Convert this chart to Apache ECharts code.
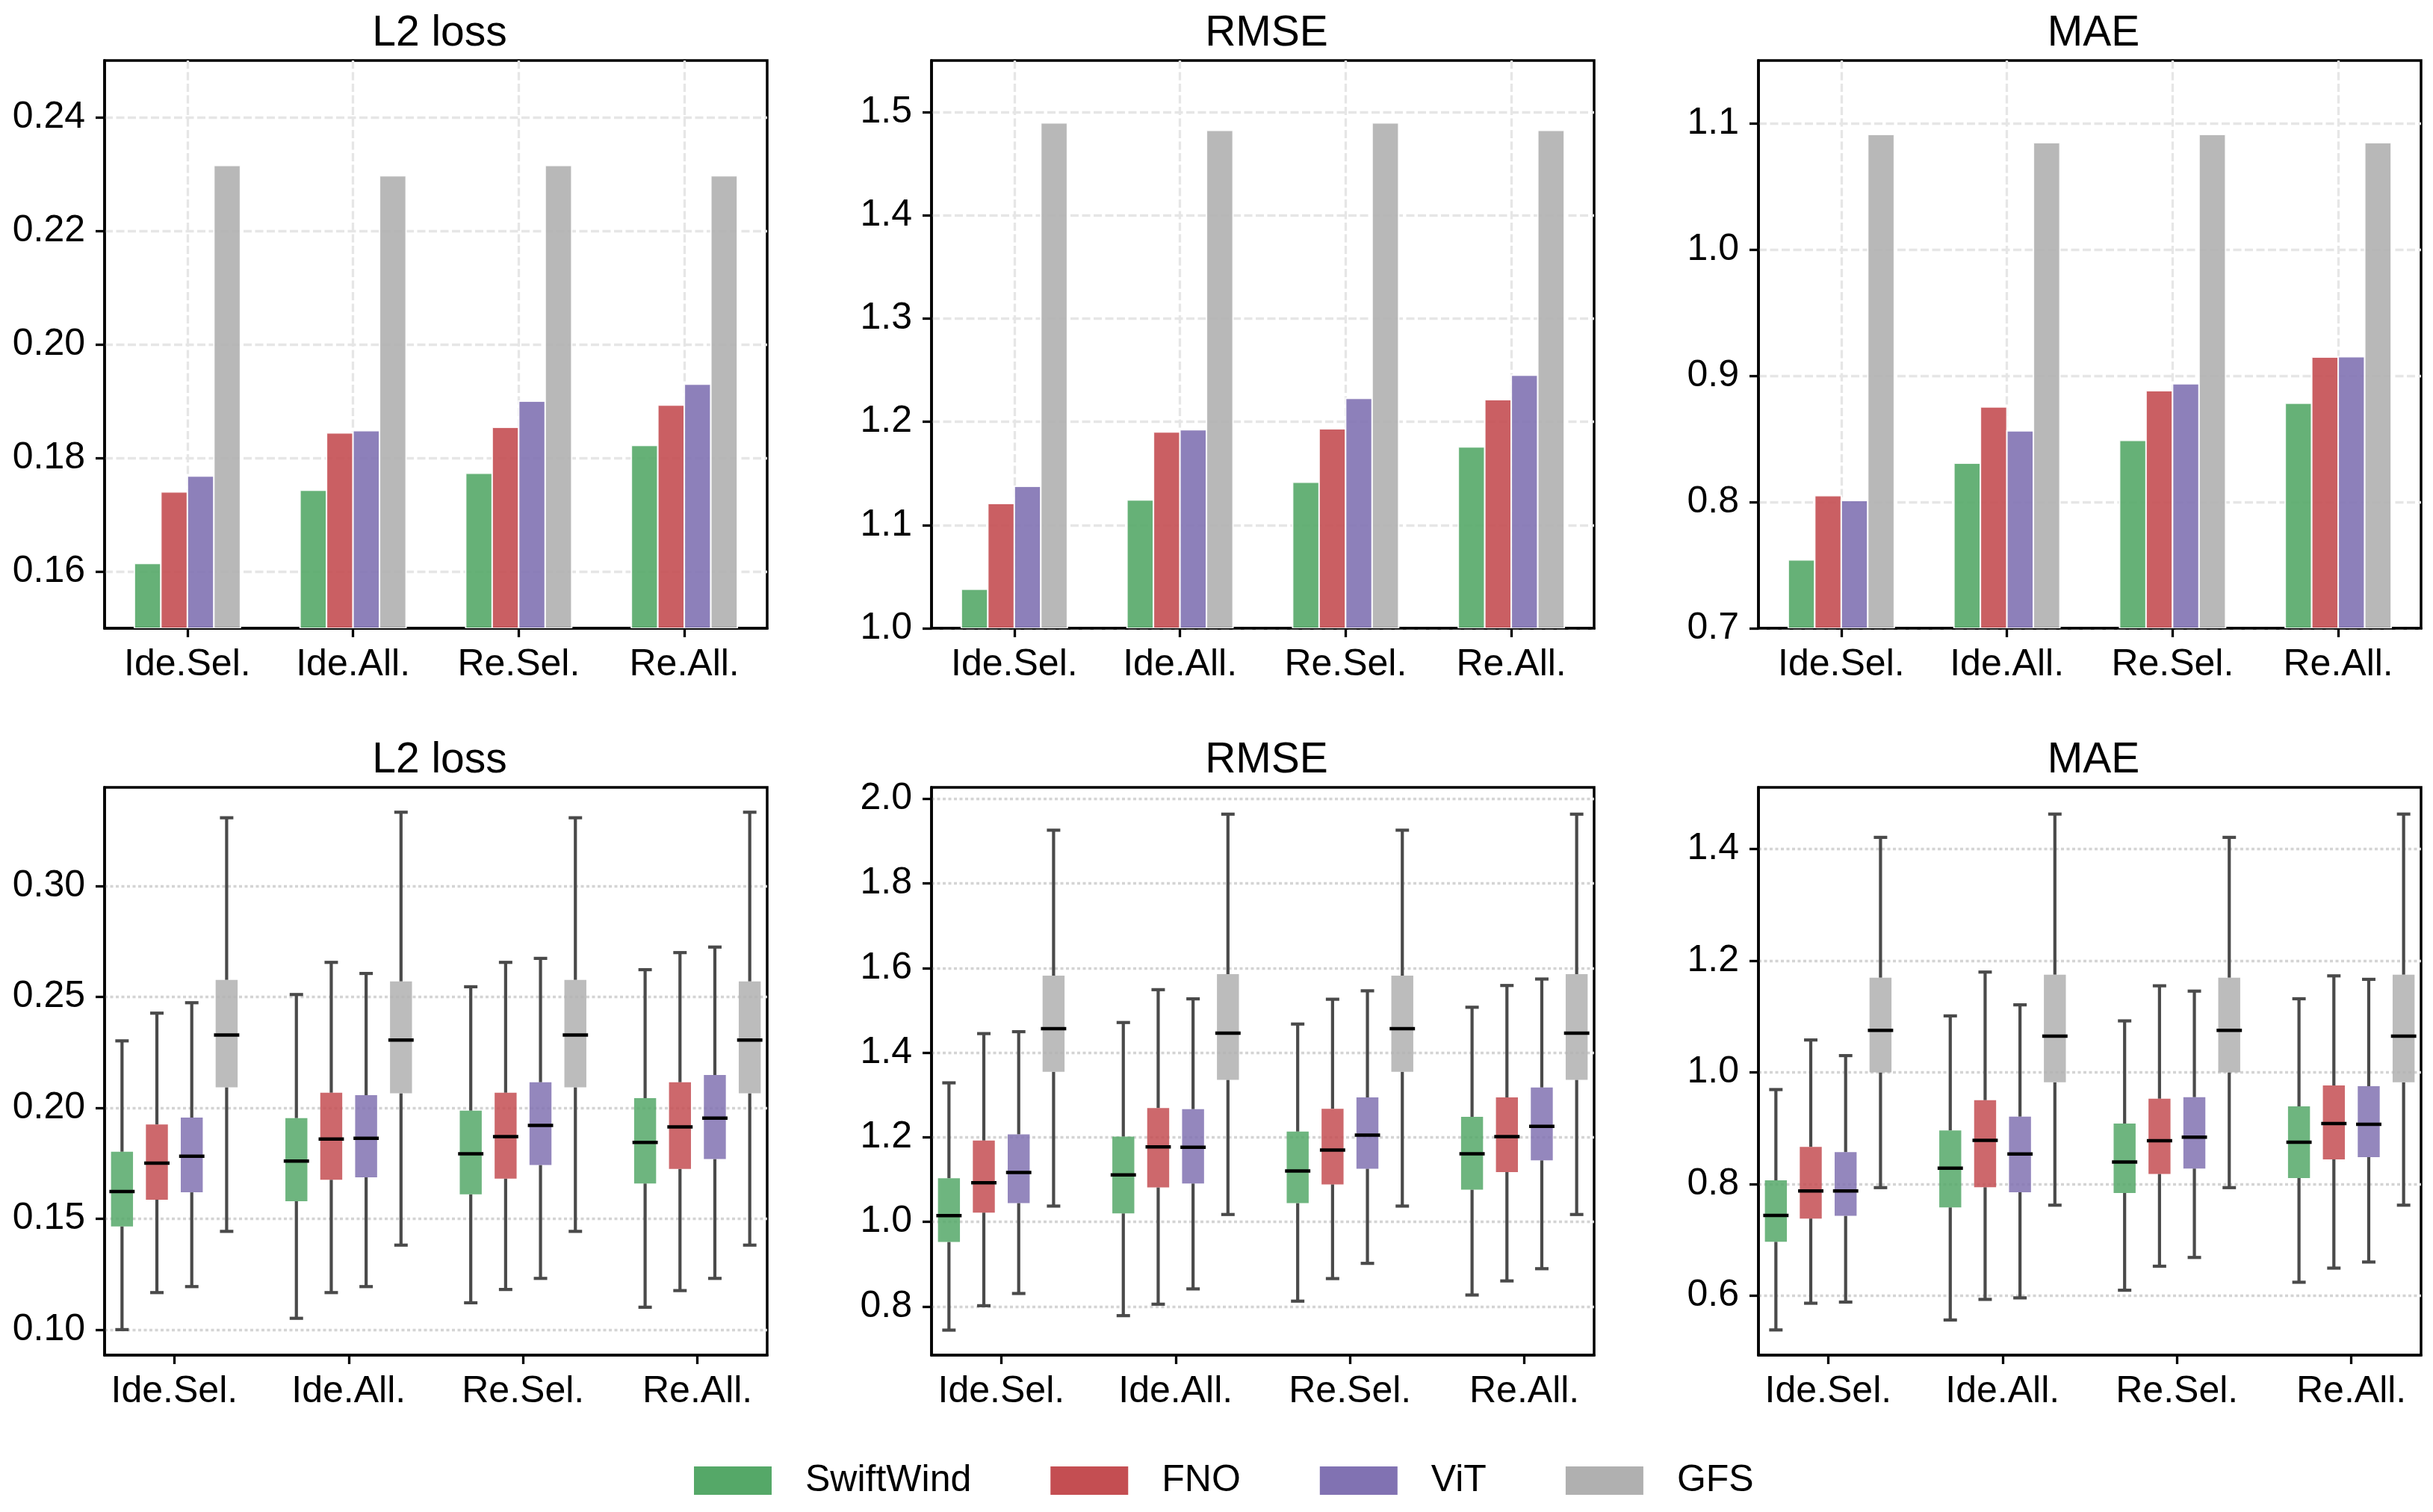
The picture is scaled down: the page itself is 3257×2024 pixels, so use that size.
<!DOCTYPE html>
<html>
<head>
<meta charset="utf-8">
<script src="https://cdn.jsdelivr.net/npm/echarts@6/dist/echarts.min.js"></script>
<style>
html,body{margin:0;padding:0;background:#fff;}
#chart{width:3257px;height:2024px;}
</style>
</head>
<body>
<div id="chart"></div>
<script>
// ---------- data ----------
const CATEGORIES = ['Ide.Sel.', 'Ide.All.', 'Re.Sel.', 'Re.All.'];
const MODELS = ['SwiftWind', 'FNO', 'ViT', 'GFS'];
const METRICS = ['L2 loss', 'RMSE', 'MAE'];

// Top row: mean values, one array per model (order of CATEGORIES)
const L2_MEAN = [
  [0.1614, 0.1743, 0.1773, 0.1822],
  [0.1740, 0.1844, 0.1854, 0.1893],
  [0.1768, 0.1848, 0.1900, 0.1930],
  [0.2315, 0.2297, 0.2315, 0.2297]
];
const RMSE_MEAN = [
  [1.0378, 1.1243, 1.1415, 1.1757],
  [1.1208, 1.1902, 1.1933, 1.2214],
  [1.1375, 1.1924, 1.2228, 1.2452],
  [1.4895, 1.4824, 1.4895, 1.4824]
];
const MAE_MEAN = [
  [0.7542, 0.8309, 0.8489, 0.8783],
  [0.8051, 0.8754, 0.8883, 0.9149],
  [0.8012, 0.8564, 0.8937, 0.9152],
  [1.0914, 1.0849, 1.0914, 1.0849]
];

// Bottom row: box stats [low whisker, q1, median, q3, high whisker] per category, one array per model
const L2_BOX = [
  [[0.1000,0.1465,0.1623,0.1802,0.2302],[0.1051,0.1579,0.1760,0.1954,0.2511],[0.1121,0.1610,0.1793,0.1987,0.2546],[0.1101,0.1659,0.1844,0.2044,0.2623]],
  [[0.1167,0.1586,0.1751,0.1925,0.2427],[0.1167,0.1676,0.1859,0.2068,0.2656],[0.1181,0.1681,0.1870,0.2068,0.2656],[0.1176,0.1725,0.1914,0.2115,0.2700]],
  [[0.1194,0.1619,0.1782,0.1956,0.2474],[0.1194,0.1687,0.1863,0.2057,0.2606],[0.1231,0.1742,0.1921,0.2115,0.2674],[0.1231,0.1769,0.1954,0.2148,0.2725]],
  [[0.1443,0.2093,0.2328,0.2577,0.3308],[0.1381,0.2066,0.2306,0.2570,0.3333],[0.1443,0.2093,0.2328,0.2577,0.3308],[0.1381,0.2066,0.2306,0.2570,0.3333]]
];
const RMSE_BOX = [
  [[0.7441,0.9525,1.0147,1.1031,1.3286],[0.7783,1.0201,1.1112,1.2014,1.4712],[0.8126,1.0445,1.1203,1.2132,1.4676],[0.8271,1.0760,1.1608,1.2484,1.5073]],
  [[0.8018,1.0219,1.0923,1.1924,1.4450],[0.8054,1.0815,1.1771,1.2691,1.5488],[0.8659,1.0887,1.1699,1.2673,1.5262],[0.8604,1.1175,1.2014,1.2944,1.5587]],
  [[0.8307,1.0445,1.1166,1.2069,1.4495],[0.8415,1.0905,1.1762,1.2664,1.5271],[0.9019,1.1257,1.2051,1.2944,1.5461],[0.8893,1.1455,1.2258,1.3178,1.5740]],
  [[1.0373,1.3548,1.4567,1.5821,1.9258],[1.0174,1.3359,1.4459,1.5857,1.9637],[1.0373,1.3548,1.4567,1.5821,1.9258],[1.0174,1.3359,1.4459,1.5857,1.9637]]
];
const MAE_BOX = [
  [[0.5385,0.6963,0.7435,0.8063,0.9689],[0.5563,0.7578,0.8282,0.8958,1.1008],[0.6096,0.7838,0.8391,0.9081,1.0919],[0.6239,0.8104,0.8746,0.9389,1.1315]],
  [[0.5863,0.7380,0.7872,0.8664,1.0577],[0.5932,0.7940,0.8781,0.9498,1.1793],[0.6526,0.8179,0.8774,0.9525,1.1547],[0.6492,0.8439,0.9081,0.9764,1.1725]],
  [[0.5884,0.7428,0.7872,0.8569,1.0297],[0.5959,0.7851,0.8535,0.9204,1.1206],[0.6683,0.8275,0.8835,0.9553,1.1452],[0.6601,0.8480,0.9067,0.9751,1.1663]],
  [[0.7933,0.9997,1.0748,1.1691,1.4205],[0.7619,0.9819,1.0646,1.1745,1.4622],[0.7933,0.9997,1.0748,1.1691,1.4205],[0.7619,0.9819,1.0646,1.1745,1.4622]]
];

// Axis ranges and tick labels
const TOP_Y_RANGE = [[0.15, 0.25], [1.0, 1.55], [0.7, 1.15]];
const TOP_Y_TICKS = [[0.16, 0.18, 0.20, 0.22, 0.24], [1.0, 1.1, 1.2, 1.3, 1.4, 1.5], [0.7, 0.8, 0.9, 1.0, 1.1]];
const BOT_Y_RANGE = [[0.0885, 0.3445], [0.685, 2.027], [0.4934, 1.510]];
const BOT_Y_TICKS = [[0.10, 0.15, 0.20, 0.25, 0.30], [0.8, 1.0, 1.2, 1.4, 1.6, 1.8, 2.0], [0.6, 0.8, 1.0, 1.2, 1.4]];
const Y_DECIMALS = [2, 1, 1];

// ---------- style ----------
const COLORS = ['#55a868', '#c44e52', '#8172b2', '#b0b0b0'];
const FONT = "'Liberation Sans', Arial, Helvetica, sans-serif";
const COL_LEFT = [140, 1247, 2354];
const PLOT_W = 887;
const ROW_TOP = [81, 1054];
const PLOT_H = 760;
const BAR_OFF = [-0.24, -0.08, 0.08, 0.24];
const BAR_W = 0.16;
const BOX_OFF = [-0.3, -0.1, 0.1, 0.3];
const BOX_W = 0.126;
const CAP_W = 0.077;

const topMeans = [L2_MEAN, RMSE_MEAN, MAE_MEAN];
const botBoxes = [L2_BOX, RMSE_BOX, MAE_BOX];

const grids = [], xAxes = [], yAxes = [], series = [], titles = [];

function makeXAxis(gi, min, max, showSplit) {
  return {
    type: 'value', gridIndex: gi, min: min, max: max,
    axisLine: {show: true, onZero: false, lineStyle: {color: '#000', width: 3.5}},
    axisTick: {show: true, length: 12, inside: false, customValues: [0, 1, 2, 3], lineStyle: {color: '#000', width: 3.3}},
    axisLabel: {show: true, customValues: [0, 1, 2, 3], margin: 24, color: '#000', fontSize: 50, fontFamily: FONT,
      formatter: v => CATEGORIES[Math.round(v)]},
    splitLine: showSplit ? {show: true, lineStyle: {color: '#e6e6e6', width: 3.3, type: [11, 4.5]}} : {show: false}
  };
}
function makeYAxis(gi, range, ticks, dec, dotted) {
  return {
    type: 'value', gridIndex: gi, min: range[0], max: range[1],
    axisLine: {show: true, onZero: false, lineStyle: {color: '#000', width: 3.5}},
    axisTick: {show: true, length: 12, inside: false, customValues: ticks, lineStyle: {color: '#000', width: 3.3}},
    axisLabel: {show: true, customValues: ticks, margin: 26, color: '#000', fontSize: 50, fontFamily: FONT,
      formatter: v => Number(v).toFixed(dec)},
    splitLine: dotted
      ? {show: true, lineStyle: {color: '#d4d4d4', width: 3.3, type: [4, 3.5]}}
      : {show: true, lineStyle: {color: '#e6e6e6', width: 3.3, type: [11, 4.5]}}
  };
}

function barRenderer(off, color, base) {
  return function (params, api) {
    const x = api.value(0), v = api.value(1);
    const p1 = api.coord([x + off - BAR_W / 2, v]);
    const p2 = api.coord([x + off + BAR_W / 2, base]);
    return {
      type: 'rect',
      shape: {x: p1[0], y: p1[1], width: p2[0] - p1[0], height: p2[1] - p1[1]},
      style: {fill: color, opacity: 0.9, stroke: '#ffffff', lineWidth: 2}
    };
  };
}
function boxRenderer(off, color) {
  return function (params, api) {
    const x = api.value(0) + off;
    const lo = api.value(1), q1 = api.value(2), md = api.value(3), q3 = api.value(4), hi = api.value(5);
    const pLo = api.coord([x, lo]), pQ1 = api.coord([x, q1]), pMd = api.coord([x, md]);
    const pQ3 = api.coord([x, q3]), pHi = api.coord([x, hi]);
    const bl = api.coord([x - BOX_W / 2, q3]), br = api.coord([x + BOX_W / 2, q1]);
    const cl = api.coord([x - CAP_W / 2, lo])[0], cr = api.coord([x + CAP_W / 2, lo])[0];
    const wStyle = {stroke: '#4a4a4a', lineWidth: 4.2};
    return {
      type: 'group',
      children: [
        {type: 'line', shape: {x1: pLo[0], y1: pLo[1], x2: pQ1[0], y2: pQ1[1]}, style: wStyle},
        {type: 'line', shape: {x1: pQ3[0], y1: pQ3[1], x2: pHi[0], y2: pHi[1]}, style: wStyle},
        {type: 'line', shape: {x1: cl, y1: pLo[1], x2: cr, y2: pLo[1]}, style: wStyle},
        {type: 'line', shape: {x1: cl, y1: pHi[1], x2: cr, y2: pHi[1]}, style: wStyle},
        {type: 'rect', shape: {x: bl[0], y: bl[1], width: br[0] - bl[0], height: br[1] - bl[1]},
          style: {fill: color, opacity: 0.85}},
        {type: 'line', shape: {x1: bl[0], y1: pMd[1], x2: br[0], y2: pMd[1]},
          style: {stroke: '#000', lineWidth: 4.5, lineCap: 'square'}}
      ]
    };
  };
}

for (let r = 0; r < 2; r++) {
  for (let c = 0; c < 3; c++) {
    const gi = grids.length;
    grids.push({left: COL_LEFT[c], top: ROW_TOP[r], width: PLOT_W, height: PLOT_H,
      show: true, borderColor: '#000', borderWidth: 3.5, backgroundColor: 'transparent', containLabel: false});
    titles.push({text: METRICS[c], left: COL_LEFT[c] + PLOT_W / 2, textAlign: 'center',
      top: ROW_TOP[r] - 69,
      textStyle: {fontSize: 57, fontWeight: 'normal', color: '#000', fontFamily: FONT}});
    if (r === 0) {
      xAxes.push(makeXAxis(gi, -0.5, 3.5, true));
      yAxes.push(makeYAxis(gi, TOP_Y_RANGE[c], TOP_Y_TICKS[c], Y_DECIMALS[c], false));
      const means = topMeans[c];
      for (let m = 0; m < MODELS.length; m++) {
        series.push({
          type: 'custom', name: MODELS[m], xAxisIndex: gi, yAxisIndex: gi, clip: true,
          itemStyle: {color: COLORS[m]},
          renderItem: barRenderer(BAR_OFF[m], COLORS[m], TOP_Y_RANGE[c][0]),
          encode: {x: 0, y: 1},
          data: means[m].map((v, i) => [i, v]),
          z: 3
        });
      }
    } else {
      xAxes.push(makeXAxis(gi, -0.4, 3.4, false));
      yAxes.push(makeYAxis(gi, BOT_Y_RANGE[c], BOT_Y_TICKS[c], Y_DECIMALS[c], true));
      const boxes = botBoxes[c];
      for (let m = 0; m < MODELS.length; m++) {
        series.push({
          type: 'custom', name: MODELS[m], xAxisIndex: gi, yAxisIndex: gi, clip: true,
          itemStyle: {color: COLORS[m]},
          renderItem: boxRenderer(BOX_OFF[m], COLORS[m]),
          encode: {x: 0, y: [1, 2, 3, 4, 5]},
          data: boxes[m].map((b, i) => [i].concat(b)),
          z: 3
        });
      }
    }
  }
}

const chart = echarts.init(document.getElementById('chart'), null, {renderer: 'canvas'});
chart.setOption({
  backgroundColor: '#ffffff',
  animation: false,
  title: titles,
  grid: grids,
  xAxis: xAxes,
  yAxis: yAxes,
  legend: {
    data: MODELS,
    left: 929, top: 1957, padding: 0,
    icon: 'rect', itemWidth: 104, itemHeight: 38, itemGap: 106,
    selectedMode: false,
    textStyle: {fontSize: 50, color: '#000', fontFamily: FONT, padding: [0, 0, 0, 40]}
  },
  series: series
});
</script>
</body>
</html>
